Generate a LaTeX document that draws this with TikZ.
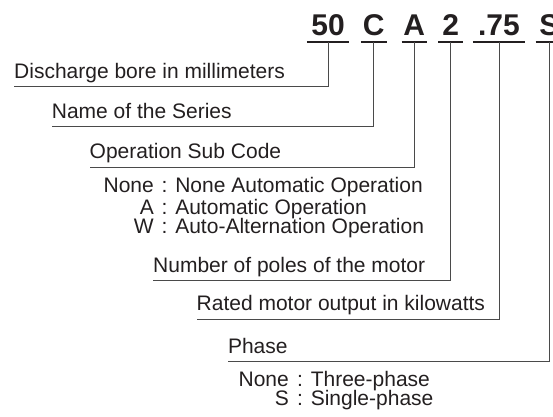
\documentclass[tikz,border=0pt]{standalone}
\usepackage{fontspec}
\setmainfont{Liberation Sans}
\usepackage{xcolor}
\definecolor{inkdark}{HTML}{231F20}
\definecolor{linkgray}{HTML}{4A4A4A}

\begin{document}
\begin{tikzpicture}[x=1pt, y=-1pt, codebox/.style={font=\fontsize{30}{30}\selectfont\bfseries, text=inkdark, inner sep=0pt, text depth=6.7pt, anchor=base}, tagtext/.style={font=\fontsize{21}{21}\selectfont, text=inkdark, inner sep=0pt, text depth=8.5pt, anchor=base west}, opttext/.style={font=\fontsize{21}{21}\selectfont, text=inkdark, inner sep=0pt}, uline/.style={draw=inkdark, line width=2.4pt}, link/.style={draw=linkgray, line width=0.9pt}]
\useasboundingbox (0,0) rectangle (553,416);
% model code
\node[codebox, minimum width=42pt] (c50) at (328,35) {50};
\node[codebox, minimum width=25.7pt] (cC) at (373.8,35) {C};
\node[codebox, minimum width=25pt] (cA) at (414.3,35) {A};
\node[codebox, minimum width=25pt] (c2) at (450.7,35) {2};
\node[codebox, minimum width=52pt] (c75) at (499,35) {.75};
\node[codebox, minimum width=27pt] (cS) at (549.3,35) {S};
\foreach \c in {c50,cC,cA,c2,c75,cS}
  \draw[uline] (\c.south west) -- (\c.south east);
% descriptions
\node[tagtext] (bore) at (14,78.2) {Discharge bore in millimeters};
\node[tagtext] (series) at (51.7,118.2) {Name of the Series};
\node[tagtext] (subcode) at (89.5,158.8) {Operation Sub Code};
\node[tagtext] (poles) at (153,272.2) {Number of poles of the motor};
\node[tagtext] (output) at (196.5,310.8) {Rated motor output in kilowatts};
\node[tagtext] (phase) at (227.8,353.2) {Phase};
\draw[link] (c50.south) |- (bore.south west);
\draw[link] (cC.south) |- (series.south west);
\draw[link] (cA.south) |- (subcode.south west);
\draw[link] (c2.south) |- (poles.south west);
\draw[link] (c75.south) |- (output.south west);
\draw[link] (cS.south) |- (phase.south west);
% operation sub codes
\node[opttext, anchor=base east] (opnone) at (154,192.5) {None};
\node[opttext, anchor=base west] (opnonetxt) at (161.5,192.5) {: None Automatic Operation};
\node[opttext, anchor=base east] (opauto) at (154,214.5) {A};
\node[opttext, anchor=base west] (opautotxt) at (161.5,214.5) {: Automatic Operation};
\node[opttext, anchor=base east] (opalt) at (154,233.5) {W};
\node[opttext, anchor=base west] (opalttxt) at (161.5,233.5) {: Auto-Alternation Operation};
% phase codes
\node[opttext, anchor=base east] (phnone) at (289,386) {None};
\node[opttext, anchor=base west] (phnonetxt) at (297,386) {: Three-phase};
\node[opttext, anchor=base east] (phsingle) at (289,405) {S};
\node[opttext, anchor=base west] (phsingletxt) at (297,405) {: Single-phase};
\end{tikzpicture}
\end{document}
